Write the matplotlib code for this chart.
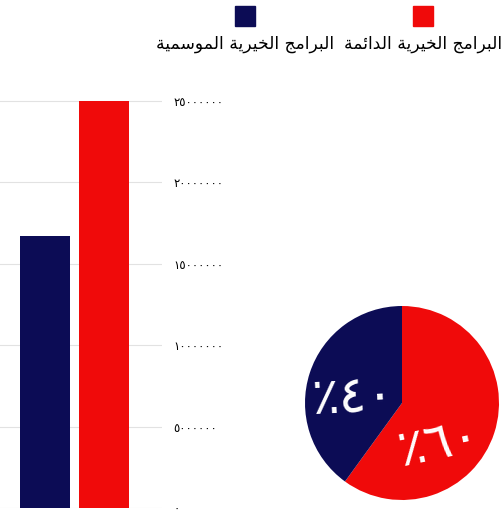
import matplotlib
matplotlib.use('Agg')
import matplotlib.pyplot as plt

# data
bar_labels = ['البرامج الخيرية الموسمية', 'البرامج الخيرية الدائمة']
bar_values = [16700000, 25000000]
bar_colors = ['#0c0c55', '#f00a0a']
y_ticks = [0, 5000000, 10000000, 15000000, 20000000, 25000000]
pie_values = [60, 40]
pie_labels = ['٪٦٠', '٪٤٠']
pie_colors = ['#f00a0a', '#0c0c55']

W, H = 504, 515

# minimal arabic shaping (matplotlib does no bidi / joining)
# letter: (isolated, final, initial, medial); None = does not join forward
FORMS = {
    'ا': ('\uFE8D', '\uFE8E', None, None),
    'ب': ('\uFE8F', '\uFE90', '\uFE91', '\uFE92'),
    'ة': ('\uFE93', '\uFE94', None, None),
    'ج': ('\uFE9D', '\uFE9E', '\uFE9F', '\uFEA0'),
    'خ': ('\uFEA5', '\uFEA6', '\uFEA7', '\uFEA8'),
    'د': ('\uFEA9', '\uFEAA', None, None),
    'ر': ('\uFEAD', '\uFEAE', None, None),
    'س': ('\uFEB1', '\uFEB2', '\uFEB3', '\uFEB4'),
    'ل': ('\uFEDD', '\uFEDE', '\uFEDF', '\uFEE0'),
    'م': ('\uFEE1', '\uFEE2', '\uFEE3', '\uFEE4'),
    'و': ('\uFEED', '\uFEEE', None, None),
    'ي': ('\uFEF1', '\uFEF2', '\uFEF3', '\uFEF4'),
    'ئ': ('\uFE89', '\uFE8A', '\uFE8B', '\uFE8C'),
}


def shape(s):
    out = []
    for i, c in enumerate(s):
        if c not in FORMS:
            out.append(c)
            continue
        prev = s[i - 1] if i > 0 else ''
        nxt = s[i + 1] if i + 1 < len(s) else ''
        join_prev = prev in FORMS and FORMS[prev][2] is not None
        join_next = nxt in FORMS and FORMS[c][2] is not None
        iso, fin, ini, med = FORMS[c]
        if join_prev and join_next:
            out.append(med)
        elif join_prev:
            out.append(fin)
        elif join_next:
            out.append(ini)
        else:
            out.append(iso)
    return ''.join(out)[::-1]


def arabic_digits(n):
    return str(n).translate(str.maketrans('0123456789', '٠١٢٣٤٥٦٧٨٩'))


plt.rcParams['font.family'] = ['DejaVu Sans']
fig = plt.figure(figsize=(W / 100, H / 100), dpi=100)


def px_axes(x0, y0, x1, y1):
    # pixel box (top-left origin) -> figure axes
    return fig.add_axes([x0 / W, 1 - y1 / H, (x1 - x0) / W, (y1 - y0) / H])


# bar chart: 0 at y=508, 25M at y=101
y0, y25 = 508, 101
ymax = 26000000
top = y0 - (y0 - y25) * ymax / 25000000
ax = px_axes(0, top, 162, y0)
ax.bar([0, 1], bar_values, width=0.85, color=bar_colors, zorder=2)
ax.set_xlim(-0.76, 1.98)
ax.set_ylim(0, ymax)
ax.set_yticks(y_ticks)
ax.set_yticklabels([arabic_digits(v) for v in y_ticks], fontsize=8.5)
ax.yaxis.tick_right()
ax.tick_params(axis='y', length=0, pad=8)
ax.set_xticks([])
ax.grid(axis='y', color='#e2e2e2', linewidth=0.8, zorder=0)
for s in ax.spines.values():
    s.set_visible(False)

# legend squares and text
for lab, col, cx in [(bar_labels[1], bar_colors[1], 423), (bar_labels[0], bar_colors[0], 245)]:
    fig.patches.append(plt.Rectangle(((cx - 10) / W, 1 - 26 / H), 20 / W, 20 / H,
                                     transform=fig.transFigure, color=col))
    fig.text(cx / W, 1 - 44 / H, shape(lab), ha='center', va='center', fontsize=12.3)

# pie chart
r = 97
pax = px_axes(402 - r, 403 - r, 402 + r, 403 + r)
pax.pie(pie_values, colors=pie_colors, startangle=90, counterclock=False, radius=1)
pax.set_xlim(-1, 1)
pax.set_ylim(-1, 1)
pax.text(0.38, -0.42, pie_labels[0], color='white', fontsize=37,
         ha='center', va='center', rotation=12)
pax.text(-0.5, 0.05, pie_labels[1], color='white', fontsize=37,
         ha='center', va='center', rotation=3)

fig.savefig('out.png', dpi=100)
